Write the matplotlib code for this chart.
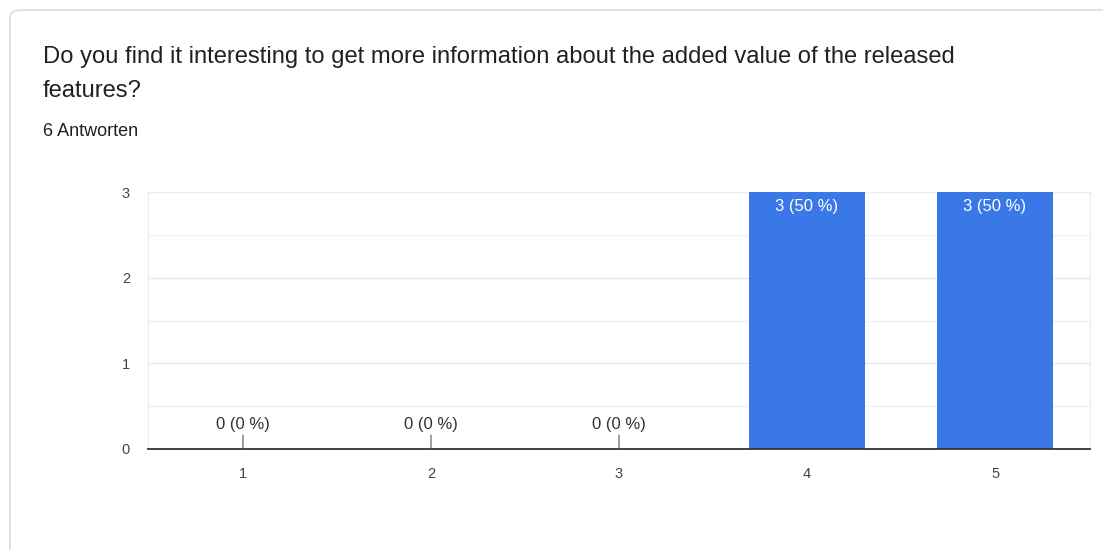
import matplotlib
matplotlib.use("Agg")
import matplotlib.pyplot as plt
from matplotlib.patches import FancyBboxPatch

plt.rcParams['font.family'] = ['Liberation Sans', 'DejaVu Sans']

categories = ["1", "2", "3", "4", "5"]
counts = [0, 0, 0, 3, 3]
percents = [0, 0, 0, 50, 50]
title_lines = ["Do you find it interesting to get more information about the added value of the released",
               "features?"]
subtitle = "6 Antworten"

W, H = 1103, 550
fig = plt.figure(figsize=(W / 100, H / 100), dpi=100)
fig.patch.set_facecolor("white")

# card outline
card = FancyBboxPatch((10 / W, -0.2), 1.2, (H - 10) / H + 0.2,
                      boxstyle="round,pad=0,rounding_size=0.012",
                      transform=fig.transFigure, facecolor="white",
                      edgecolor="#dadce0", linewidth=1.2, zorder=-5)
fig.patches.append(card)

fig.text(43 / W, 1 - 57 / H, title_lines[0], fontsize=17.1, color="#202124",
         va="center", ha="left")
fig.text(43 / W, 1 - 91 / H, title_lines[1], fontsize=17.1, color="#202124",
         va="center", ha="left")
fig.text(43 / W, 1 - 131 / H, subtitle, fontsize=13, color="#202124",
         va="center", ha="left")

ax = fig.add_axes([148 / W, 1 - 449 / H, (1090 - 148) / W, (449 - 192) / H])
ax.set_zorder(2)
ax.set_facecolor("white")
x = list(range(1, len(categories) + 1))
bars = ax.bar(x, counts, width=0.62, color="#3b78e7", zorder=3)

ax.set_xlim(0.495, 5.505)
ax.set_ylim(0, 3)
ax.set_yticks([0, 1, 2, 3])
ax.set_yticks([0.5, 1.5, 2.5], minor=True)
ax.set_xticks(x)
ax.set_xticklabels(categories)
ax.tick_params(axis="both", which="both", length=0, labelsize=10.5,
               labelcolor="#444444")
ax.tick_params(axis="x", pad=13)
ax.tick_params(axis="y", pad=13)
ax.grid(axis="y", which="major", color="#e6e6e6", linewidth=1, zorder=0)
ax.grid(axis="y", which="minor", color="#f1f1f1", linewidth=1, zorder=0)
for s in ["left", "right", "top"]:
    ax.spines[s].set_color("#ececec")
ax.spines["bottom"].set_color("#333333")
ax.spines["bottom"].set_linewidth(1.3)
ax.spines["bottom"].set_zorder(4)

for xi, c, p in zip(x, counts, percents):
    label = f"{c} ({p} %)"
    if c > 0:
        ax.annotate(label, (xi, c), xytext=(0, -5), textcoords="offset points",
                    ha="center", va="top", color="white", fontsize=12, zorder=5)
    else:
        ax.annotate(label, (xi, c), xytext=(0, 12), textcoords="offset points",
                    ha="center", va="bottom", color="#333333", fontsize=12,
                    arrowprops=dict(arrowstyle="-", color="#555555", lw=0.8,
                                    shrinkA=0, shrinkB=0), zorder=5)

fig.savefig("out.png", dpi=100, facecolor="white")
